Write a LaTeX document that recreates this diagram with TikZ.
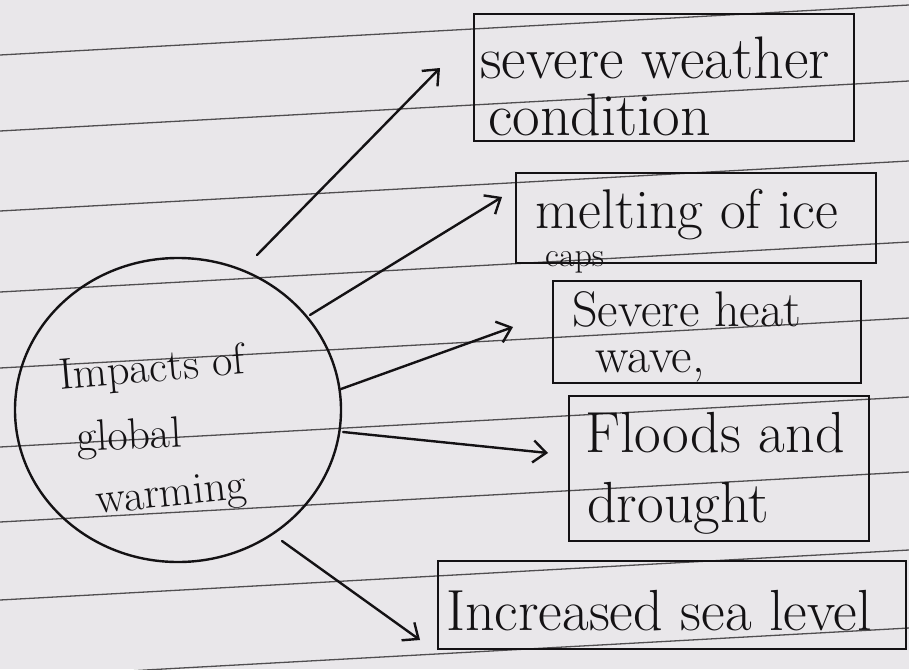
\documentclass[tikz,border=0pt]{standalone}
\usepackage{fontspec}
\setmainfont{Latin Modern Roman}
\usetikzlibrary{arrows.meta,shapes.geometric}
\definecolor{paper}{RGB}{233,231,234}
\definecolor{ruleline}{RGB}{80,78,80}
\definecolor{inkc}{RGB}{20,18,20}
\begin{document}
\begin{tikzpicture}[x=1pt,y=-1pt,
  ink/.style={draw=inkc, line width=2.4pt},
  box/.style={ink, rectangle, inner sep=0pt, anchor=north west},
  txt/.style={text=inkc, anchor=base west, inner sep=0pt},
  ctext/.style={txt, font=\fontsize{44}{48}\selectfont},
  arr/.style={ink, line cap=round, -{Straight Barb[length=13pt,width=22pt,line width=2.4pt]}},
  rule/.style={draw=ruleline, line width=1.3pt}]
\useasboundingbox (0,0) rectangle (909,669);
\fill[paper] (0,0) rectangle (909,669);
\foreach \y in {55,131,211,292,368,447,522,600,678}
  \draw[rule] (0,\y) -- (909,\y-50);
% central circle
\node[ink, ellipse, minimum width=326pt, minimum height=304pt, inner sep=0pt] (c) at (178,410) {};
\node[ctext, rotate=5] (ct1) at (60,390) {Impacts of};
\node[ctext, rotate=3] (ct2) at (77,452) {global};
\node[ctext, rotate=6] (ct3) at (97,514) {warming};
% boxes
\node[box, minimum width=380pt, minimum height=127pt] (b1) at (473,13) {};
\node[box, minimum width=360pt, minimum height=90pt] (b2) at (515,172) {};
\node[box, minimum width=308pt, minimum height=102pt] (b3) at (552,280) {};
\node[box, minimum width=300pt, minimum height=145pt] (b4) at (568,395) {};
\node[box, minimum width=468pt, minimum height=88pt] (b5) at (437,560) {};
% texts
\node[txt, font=\fontsize{60}{64}\selectfont] (t1a) at (480,78) {severe weather};
\node[txt, font=\fontsize{60}{64}\selectfont] (t1b) at (488,135) {condition};
\node[txt, font=\fontsize{56}{60}\selectfont] (t2a) at (535,228) {melting of ice};
\node[txt, font=\fontsize{34}{38}\selectfont] (t2b) at (545,266) {caps};
\node[txt, font=\fontsize{50}{54}\selectfont] (t3a) at (572,326) {Severe heat};
\node[txt, font=\fontsize{50}{54}\selectfont] (t3b) at (595,372) {wave,};
\node[txt, font=\fontsize{58}{62}\selectfont] (t4a) at (585,452) {Floods and};
\node[txt, font=\fontsize{58}{62}\selectfont] (t4b) at (587,522) {drought};
\node[txt, font=\fontsize{58}{62}\selectfont] (t5) at (446,630) {Increased sea level};
% arrows
\coordinate (s1) at (257,255); \coordinate (e1) at (440,68);
\coordinate (s2) at (310,315); \coordinate (e2) at (502,197);
\coordinate (s3) at (341,389); \coordinate (e3) at (513,327);
\coordinate (s4) at (343,432); \coordinate (e4) at (548,453);
\coordinate (s5) at (282,541); \coordinate (e5) at (420,640);
\draw[arr] (s1) -- (e1);
\draw[arr] (s2) -- (e2);
\draw[arr] (s3) -- (e3);
\draw[arr] (s4) -- (e4);
\draw[arr] (s5) -- (e5);
\end{tikzpicture}
\end{document}
